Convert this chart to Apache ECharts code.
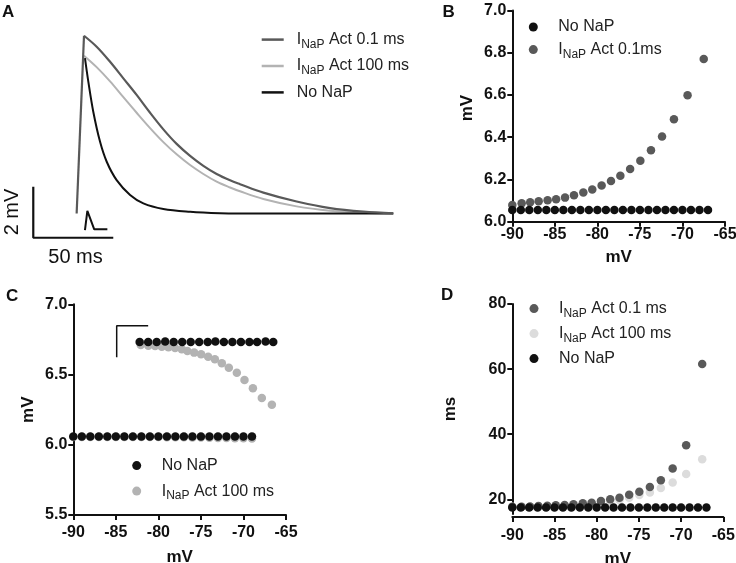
<!DOCTYPE html>
<html><head><meta charset="utf-8">
<script src="https://cdn.jsdelivr.net/npm/echarts@6/dist/echarts.min.js"></script>
<style>html,body{margin:0;padding:0;background:#fff}#c{width:736px;height:563px}</style>
</head><body><div id="c"></div>
<script>
// ---------- Panel A: voltage traces (time in ms, voltage in mV above rest) ----------
const aTime01 = [0.4, 5.0, 12.9, 21.3, 29.6, 37.9, 46.3, 54.6, 62.9, 71.3, 79.6, 87.9, 96.3, 102.5, 117.1, 137.9, 158.8, 179.6, 198.3];
const aV01    = [0, 6.97, 6.54, 5.95, 5.30, 4.65, 3.95, 3.30, 2.73, 2.26, 1.87, 1.55, 1.30, 1.15, 0.82, 0.47, 0.21, 0.07, 0.01];
const aTime100 = [5.0, 12.9, 21.3, 29.6, 37.9, 46.3, 54.6, 62.9, 71.3, 79.6, 87.9, 96.3, 102.5, 117.1, 137.9, 158.8, 179.6, 198.3];
const aV100    = [6.19, 5.74, 5.18, 4.56, 3.95, 3.35, 2.80, 2.32, 1.90, 1.55, 1.25, 1.02, 0.87, 0.57, 0.28, 0.11, 0.03, 0];
const aTimeNo = [5.6, 7.7, 10.8, 15.0, 19.2, 25.4, 33.8, 42.1, 54.6, 71.3, 90.0, 102.5, 198.3];
const aVNo    = [6.09, 5.17, 3.99, 2.82, 2.03, 1.31, 0.73, 0.40, 0.18, 0.07, 0.01, 0, 0];
// scale bar (50 ms, 2 mV) and stimulus inset
const aBarX = [-26.7, -26.7, 23.3];
const aBarY = [1.05, -0.95, -0.95];
const aStimX = [5.6, 7.1, 11.4, 19.6];
const aStimY = [-0.65, 0.1, -0.62, -0.62];

// ---------- Panel B ----------
const bXNaP = [-90, -88.9, -87.9, -86.9, -85.85, -84.85, -83.8, -82.75, -81.65, -80.6, -79.5, -78.4, -77.3, -76.15, -74.95, -73.7, -72.4, -71.0, -69.4, -67.5];
const bY01  = [6.079, 6.087, 6.092, 6.097, 6.101, 6.106, 6.114, 6.125, 6.138, 6.152, 6.171, 6.193, 6.218, 6.250, 6.289, 6.338, 6.403, 6.485, 6.599, 6.770];
const bXNo = [-90, -89, -88, -87, -86, -85, -84, -83, -82, -81, -80, -79, -78, -77, -76, -75, -74, -73, -72, -71, -70, -69, -68, -67];
const bYNo = [6.055, 6.055, 6.055, 6.055, 6.055, 6.055, 6.055, 6.055, 6.055, 6.055, 6.055, 6.055, 6.055, 6.055, 6.055, 6.055, 6.055, 6.055, 6.055, 6.055, 6.055, 6.055, 6.055, 6.055];

// ---------- Panel C ----------
const cXNoBase = [-90, -89, -88, -87, -86, -85, -84, -83, -82, -81, -80, -79, -78, -77, -76, -75, -74, -73, -72, -71, -70, -69];
const cYNoBase = [6.058, 6.058, 6.058, 6.058, 6.058, 6.058, 6.058, 6.058, 6.058, 6.058, 6.058, 6.058, 6.058, 6.058, 6.058, 6.058, 6.058, 6.058, 6.058, 6.058, 6.058, 6.058];
const cY100Base = [6.056, 6.056, 6.056, 6.056, 6.056, 6.056, 6.056, 6.056, 6.056, 6.055, 6.055, 6.054, 6.054, 6.053, 6.052, 6.051, 6.050, 6.049, 6.048, 6.047, 6.046, 6.045];
const cXNoTop = [-82.2, -81.2, -80.2, -79.2, -78.2, -77.2, -76.2, -75.2, -74.2, -73.3, -72.3, -71.3, -70.3, -69.3, -68.4, -67.4, -66.5];
const cYNoTop = [6.732, 6.732, 6.732, 6.736, 6.732, 6.732, 6.732, 6.732, 6.732, 6.735, 6.732, 6.732, 6.732, 6.732, 6.732, 6.736, 6.732];
const cX100 = [-82.07, -81.18, -80.39, -79.6, -78.82, -78.04, -77.25, -76.59, -75.8, -74.98, -74.15, -73.36, -72.54, -71.72, -70.78, -69.88, -68.89, -67.84, -66.66];
const cY100 = [6.710, 6.705, 6.703, 6.698, 6.694, 6.689, 6.680, 6.668, 6.656, 6.644, 6.627, 6.609, 6.580, 6.549, 6.513, 6.461, 6.402, 6.333, 6.285];
const cBarX = [-84.9, -84.9, -81.2];
const cBarY = [6.623, 6.848, 6.848];

// ---------- Panel D ----------
const dY01  = [17.73, 17.73, 17.84, 17.94, 18.05, 18.15, 18.25, 18.46, 18.77, 18.97, 19.48, 20.0, 20.51, 21.4, 22.3, 23.8, 25.9, 29.45, 36.6, 61.6];
const dY100 = [17.7, 17.7, 17.75, 17.8, 17.9, 17.95, 18.05, 18.2, 18.4, 18.6, 18.9, 19.3, 19.8, 20.5, 21.3, 22.1, 23.5, 25.2, 27.8, 32.3];
const dYNo  = [17.5, 17.5, 17.5, 17.5, 17.5, 17.5, 17.5, 17.5, 17.5, 17.5, 17.5, 17.5, 17.5, 17.5, 17.5, 17.5, 17.5, 17.5, 17.5, 17.5, 17.5, 17.5, 17.5, 17.5];
const dYTicks = [20, 40, 60, 80];

const FONT = "'Liberation Sans', Arial, Helvetica, sans-serif";
const C_DARK = '#595959', C_LIGHT = '#b3b3b3', C_BLACK = '#111111', C_VLIGHT = '#dcdcdc';

function zip(xs, ys) { return xs.map((x, i) => [x, ys[i]]); }

function valAxis(gi, min, max, interval, name, nameGap, margin, dec, extra) {
  const ax = {
    gridIndex: gi, type: 'value', min: min, max: max, interval: interval,
    splitLine: { show: false },
    axisLine: { show: true, onZero: false, lineStyle: { color: '#111', width: 2 } },
    axisTick: { show: true, length: 5, lineStyle: { color: '#111', width: 2 } },
    axisLabel: { color: '#111', fontSize: 16, fontWeight: 'bold', fontFamily: FONT, margin: margin,
      showMinLabel: true, showMaxLabel: true, hideOverlap: false,
      formatter: v => v.toFixed(dec) },
    name: name, nameLocation: 'middle', nameGap: nameGap, nameMoveOverlap: false,
    nameTextStyle: { color: '#111', fontSize: 17, fontWeight: 'bold', fontFamily: FONT }
  };
  if (extra) extra(ax);
  return ax;
}
function hiddenAxis(gi, min, max) {
  return { gridIndex: gi, type: 'value', min: min, max: max, show: false, splitLine: { show: false } };
}

const rich = {
  g: { width: 8 },
  n: { fontSize: 16, fontFamily: FONT, color: '#222', lineHeight: 22, verticalAlign: 'middle' },
  s: { fontSize: 12, fontFamily: FONT, color: '#222', lineHeight: 10, verticalAlign: 'bottom' }
};
function fmtName(name) {
  const s = name.split('|')[1];
  if (s.indexOf('INaP') === 0) return '{n|I}{s|NaP}{n|' + s.slice(4) + '}';
  return '{n|' + s + '}';
}

function lineSeries(name, data, color, width, xi, smooth, z) {
  return { name: name, type: 'line', xAxisIndex: xi, yAxisIndex: xi, data: data, color: color,
    showSymbol: false, symbol: 'none', smooth: smooth, z: z || 2, silent: true, animation: false,
    lineStyle: { color: color, width: width } };
}
function dotSeries(name, data, color, gi, z) {
  return { name: name, type: 'scatter', xAxisIndex: gi, yAxisIndex: gi, data: data, color: color,
    symbol: 'circle', symbolSize: 8.5, z: z || 2, silent: true, animation: false,
    itemStyle: { color: color, opacity: 1 } };
}

const option = {
  animation: false,
  backgroundColor: '#ffffff',
  grid: [
    { left: 20, top: 22.25, width: 380, height: 229.5, containLabel: false, outerBoundsMode: 'none' },
    { left: 512.3, top: 10.5, width: 212.7, height: 211.2, containLabel: false, outerBoundsMode: 'none' },
    { left: 73.3, top: 304.3, width: 212.7, height: 210.7, containLabel: false, outerBoundsMode: 'none' },
    { left: 512.3, top: 304, width: 211, height: 210, containLabel: false, outerBoundsMode: 'none' }
  ],
  xAxis: [
    hiddenAxis(0, -35, 202.5),
    valAxis(1, -90, -65, 5, 'mV', 27, 5, 0),
    valAxis(2, -90, -65, 5, 'mV', 34, 10, 0),
    valAxis(3, -90, -65, 5, 'mV', 34, 11, 0, ax => { ax.offset = 3; })
  ],
  yAxis: [
    hiddenAxis(0, -1.5, 7.5),
    valAxis(1, 6.0, 7.0, 0.2, 'mV', 36, 6, 1, ax => { ax.nameTextStyle.padding = [0, 0, 0, 16]; }),
    valAxis(2, 5.5, 7.0, 0.5, 'mV', 36, 6, 1),
    valAxis(3, 15.5, 80, null, 'ms', 53, 6, 0, ax => {
      delete ax.interval;
      ax.axisLabel.customValues = dYTicks;
      ax.axisTick.customValues = dYTicks;
    })
  ],
  legend: [
    { left: 261.7, top: 31.6, orient: 'vertical', itemGap: 7.4, padding: 0, selectedMode: false,
      icon: 'rect', itemWidth: 22, itemHeight: 2.5, symbolKeepAspect: false,
      data: ['A|INaP Act 0.1 ms', 'A|INaP Act 100 ms', 'A|No NaP'],
      formatter: n => '{g|}' + fmtName(n), textStyle: { rich: rich } },
    { left: 528.8, top: 19, orient: 'vertical', itemGap: 6.6, padding: 0, selectedMode: false,
      icon: 'circle', itemWidth: 40, itemHeight: 9,
      data: ['B|No NaP', 'B|INaP Act 0.1ms'],
      formatter: fmtName, textStyle: { rich: rich } },
    { left: 132.2, top: 457.6, orient: 'vertical', itemGap: 9.5, padding: 0, selectedMode: false,
      icon: 'circle', itemWidth: 40, itemHeight: 9,
      data: ['C|No NaP', 'C|INaP Act 100 ms'],
      formatter: fmtName, textStyle: { rich: rich } },
    { left: 529.5, top: 300.6, orient: 'vertical', itemGap: 6, padding: 0, selectedMode: false,
      icon: 'circle', itemWidth: 40, itemHeight: 9,
      data: ['D|INaP Act 0.1 ms', 'D|INaP Act 100 ms', 'D|No NaP'],
      formatter: fmtName, textStyle: { rich: rich } }
  ],
  series: [
    // Panel A
    lineSeries('A|INaP Act 100 ms', zip(aTime100, aV100), C_LIGHT, 2, 0, 0.35, 2),
    lineSeries('A|No NaP', zip(aTimeNo, aVNo), C_BLACK, 2, 0, 0.35, 3),
    lineSeries('A|rise', zip(aTime01, aV01).slice(0, 2), C_DARK, 2.2, 0, false, 4),
    lineSeries('A|INaP Act 0.1 ms', zip(aTime01, aV01).slice(1), C_DARK, 2.2, 0, 0.35, 4),
    lineSeries('A|scalebar', zip(aBarX, aBarY), C_BLACK, 2.2, 0, false, 4),
    lineSeries('A|stim', zip(aStimX, aStimY), C_BLACK, 2, 0, false, 4),
    // Panel B
    dotSeries('B|INaP Act 0.1ms', zip(bXNaP, bY01), C_DARK, 1, 2),
    dotSeries('B|No NaP', zip(bXNo, bYNo), C_BLACK, 1, 3),
    // Panel C
    dotSeries('C|INaP Act 100 ms', zip(cXNoBase, cY100Base).concat(zip(cX100, cY100)), C_LIGHT, 2, 2),
    dotSeries('C|No NaP', zip(cXNoBase, cYNoBase).concat(zip(cXNoTop, cYNoTop)), C_BLACK, 2, 3),
    lineSeries('C|scalebar', zip(cBarX, cBarY), C_BLACK, 1.5, 2, false, 4),
    // Panel D
    dotSeries('D|INaP Act 100 ms', zip(bXNaP, dY100), C_VLIGHT, 3, 2),
    dotSeries('D|INaP Act 0.1 ms', zip(bXNaP, dY01), C_DARK, 3, 3),
    dotSeries('D|No NaP', zip(bXNo, dYNo), C_BLACK, 3, 4)
  ],
  graphic: [
    { type: 'text', left: 2, top: 3.5, style: { text: 'A', font: 'bold 17px ' + FONT, fill: '#111' } },
    { type: 'text', left: 442.5, top: 3.5, style: { text: 'B', font: 'bold 17px ' + FONT, fill: '#111' } },
    { type: 'text', left: 6, top: 288, style: { text: 'C', font: 'bold 17px ' + FONT, fill: '#111' } },
    { type: 'text', left: 441, top: 286.5, style: { text: 'D', font: 'bold 17px ' + FONT, fill: '#111' } },
    { type: 'text', x: 12, y: 212, rotation: Math.PI / 2,
      style: { text: '2 mV', font: '20px ' + FONT, fill: '#111', textAlign: 'center', textVerticalAlign: 'middle', align: 'center', verticalAlign: 'middle' } },
    { type: 'text', x: 75.5, y: 257.5,
      style: { text: '50 ms', font: '20px ' + FONT, fill: '#111', textAlign: 'center', textVerticalAlign: 'middle', align: 'center', verticalAlign: 'middle' } }
  ]
};

const chart = echarts.init(document.getElementById('c'), null, { renderer: 'canvas', width: 736, height: 563 });
chart.setOption(option);
</script></body></html>
